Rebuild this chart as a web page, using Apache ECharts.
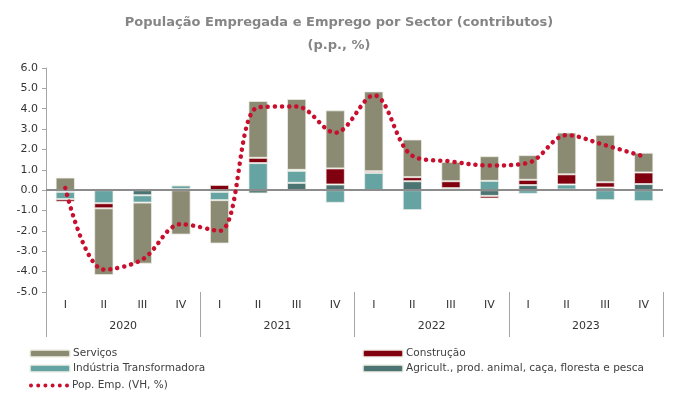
<!DOCTYPE html>
<html>
<head>
<meta charset="utf-8">
<script src="https://cdn.jsdelivr.net/npm/echarts@6/dist/echarts.min.js"></script>
<style>
  html, body { margin: 0; padding: 0; background: #fff; }
  #chart { width: 678px; height: 394px; }
</style>
</head>
<body>
<div id="chart"></div>
<script>
// Quarter and year labels for the two-level category axis
const quarters = ['I', 'II', 'III', 'IV', 'I', 'II', 'III', 'IV', 'I', 'II', 'III', 'IV', 'I', 'II', 'III', 'IV'];
const years = ['2020', '2021', '2022', '2023'];

// Contributions by sector (p.p.)
const servicos  = [0.62, -3.28, -3.00, -2.18, -2.13, 2.79, 3.48, 2.85, 3.92, 1.85, 0.95, 1.21, 1.21, 2.05, 2.33, 0.97];
const construcao = [-0.13, -0.25, 0.05, 0.00, 0.26, 0.26, 0.05, 0.79, 0.08, 0.20, 0.34, -0.13, 0.26, 0.50, 0.26, 0.57];
const industria = [-0.36, -0.64, -0.36, 0.18, -0.41, 1.33, 0.59, -0.62, 0.85, -0.98, 0.10, 0.46, -0.18, 0.25, -0.49, -0.54];
const agricult  = [-0.08, 0.02, -0.25, 0.05, -0.08, -0.16, 0.36, 0.28, 0.00, 0.44, -0.03, -0.28, 0.25, 0.03, 0.13, 0.30];

// Employed population, year-on-year change (%)
const popEmp = [0.11, -3.90, -3.40, -1.67, -2.00, 4.07, 4.11, 2.82, 4.66, 1.69, 1.41, 1.21, 1.34, 2.70, 2.21, 1.66];

const FONT = '"DejaVu Sans", Verdana, sans-serif';
const RED = '#c8102e';
const barBorder = { borderColor: 'rgba(240,240,232,0.75)', borderWidth: 1 };

// Legend key for the dotted line: a row of six round dots
function dotRowPath(count, width, d) {
  const r = d / 2;
  const step = (width - d) / (count - 1);
  let p = '';
  for (let i = 0; i < count; i++) {
    const cx = r + i * step;
    p += 'M' + (cx - r) + ' ' + r + 'a' + r + ' ' + r + ' 0 1 0 ' + d + ' 0a' + r + ' ' + r + ' 0 1 0 ' + (-d) + ' 0Z';
  }
  return 'path://' + p;
}

function barSeries(name, data, color) {
  return {
    name: name,
    type: 'bar',
    stack: 'total',
    barWidth: '50%',
    data: data,
    z: 2,
    itemStyle: Object.assign({ color: color }, barBorder)
  };
}

const legendText = { fontFamily: FONT, fontSize: 10.5, color: '#404040', padding: [0, 0, 0, -2] };

const chart = echarts.init(document.getElementById('chart'), null, { renderer: 'canvas' });

chart.setOption({
  animation: false,
  backgroundColor: '#ffffff',
  textStyle: { fontFamily: FONT },
  title: {
    text: 'População Empregada e Emprego por Sector (contributos)\n(p.p., %)',
    left: 'center',
    top: 6,
    textStyle: { fontFamily: FONT, fontSize: 13, fontWeight: 'bold', color: '#858585', lineHeight: 23 }
  },
  legend: [
    {
      orient: 'vertical',
      left: 24,
      top: 343,
      height: 40,
      itemWidth: 40,
      itemHeight: 7,
      itemGap: 4,
      selectedMode: false,
      textStyle: legendText,
      data: ['Serviços', 'Indústria Transformadora']
    },
    {
      orient: 'vertical',
      left: 357,
      top: 343,
      height: 40,
      itemWidth: 40,
      itemHeight: 7,
      itemGap: 4,
      selectedMode: false,
      textStyle: legendText,
      data: ['Construção', 'Agricult., prod. animal, caça, floresta e pesca']
    },
    {
      orient: 'horizontal',
      left: 24,
      top: 375,
      itemWidth: 40,
      itemHeight: 4,
      selectedMode: false,
      textStyle: legendText,
      data: [{
        name: 'Pop. Emp. (VH, %)',
        icon: dotRowPath(6, 40, 4),
        itemStyle: { color: RED, borderWidth: 0 }
      }]
    }
  ],
  grid: { left: 46, right: 15, top: 68, bottom: 102 },
  xAxis: [
    {
      type: 'category',
      data: quarters,
      position: 'bottom',
      axisLine: { show: false, onZero: false },
      axisTick: { show: false },
      axisLabel: { margin: 8, fontFamily: FONT, fontSize: 11, color: '#333333', interval: 0 }
    },
    {
      type: 'category',
      data: years,
      position: 'bottom',
      axisLine: { show: false, onZero: false },
      axisTick: { show: true, length: 45, interval: 0, lineStyle: { color: '#a6a6a6', width: 1 } },
      axisLabel: { margin: 29, fontFamily: FONT, fontSize: 11, color: '#333333', interval: 0 }
    }
  ],
  yAxis: {
    type: 'value',
    min: -5,
    max: 6,
    interval: 1,
    axisLine: { show: true, lineStyle: { color: '#a6a6a6', width: 1 } },
    axisTick: { show: true, length: 4, lineStyle: { color: '#a6a6a6' } },
    splitLine: { show: false },
    axisLabel: {
      margin: 8,
      fontFamily: FONT,
      fontSize: 11,
      color: '#333333',
      formatter: v => v.toFixed(1)
    }
  },
  series: [
    barSeries('Agricult., prod. animal, caça, floresta e pesca', agricult, '#4b7472'),
    barSeries('Indústria Transformadora', industria, '#66a3a3'),
    barSeries('Construção', construcao, '#80000f'),
    Object.assign(barSeries('Serviços', servicos, '#8b8a72'), {
      markLine: {
        silent: true,
        symbol: 'none',
        label: { show: false },
        lineStyle: { color: '#8c8c8c', width: 2, type: 'solid' },
        data: [{ yAxis: 0 }],
        z: 5
      }
    }),
    {
      name: 'Pop. Emp. (VH, %)',
      type: 'line',
      data: popEmp,
      smooth: 0.35,
      showSymbol: false,
      symbol: 'none',
      z: 10,
      color: RED,
      lineStyle: { color: RED, width: 4.5, type: [0.1, 7], cap: 'round' }
    }
  ]
});
</script>
</body>
</html>
